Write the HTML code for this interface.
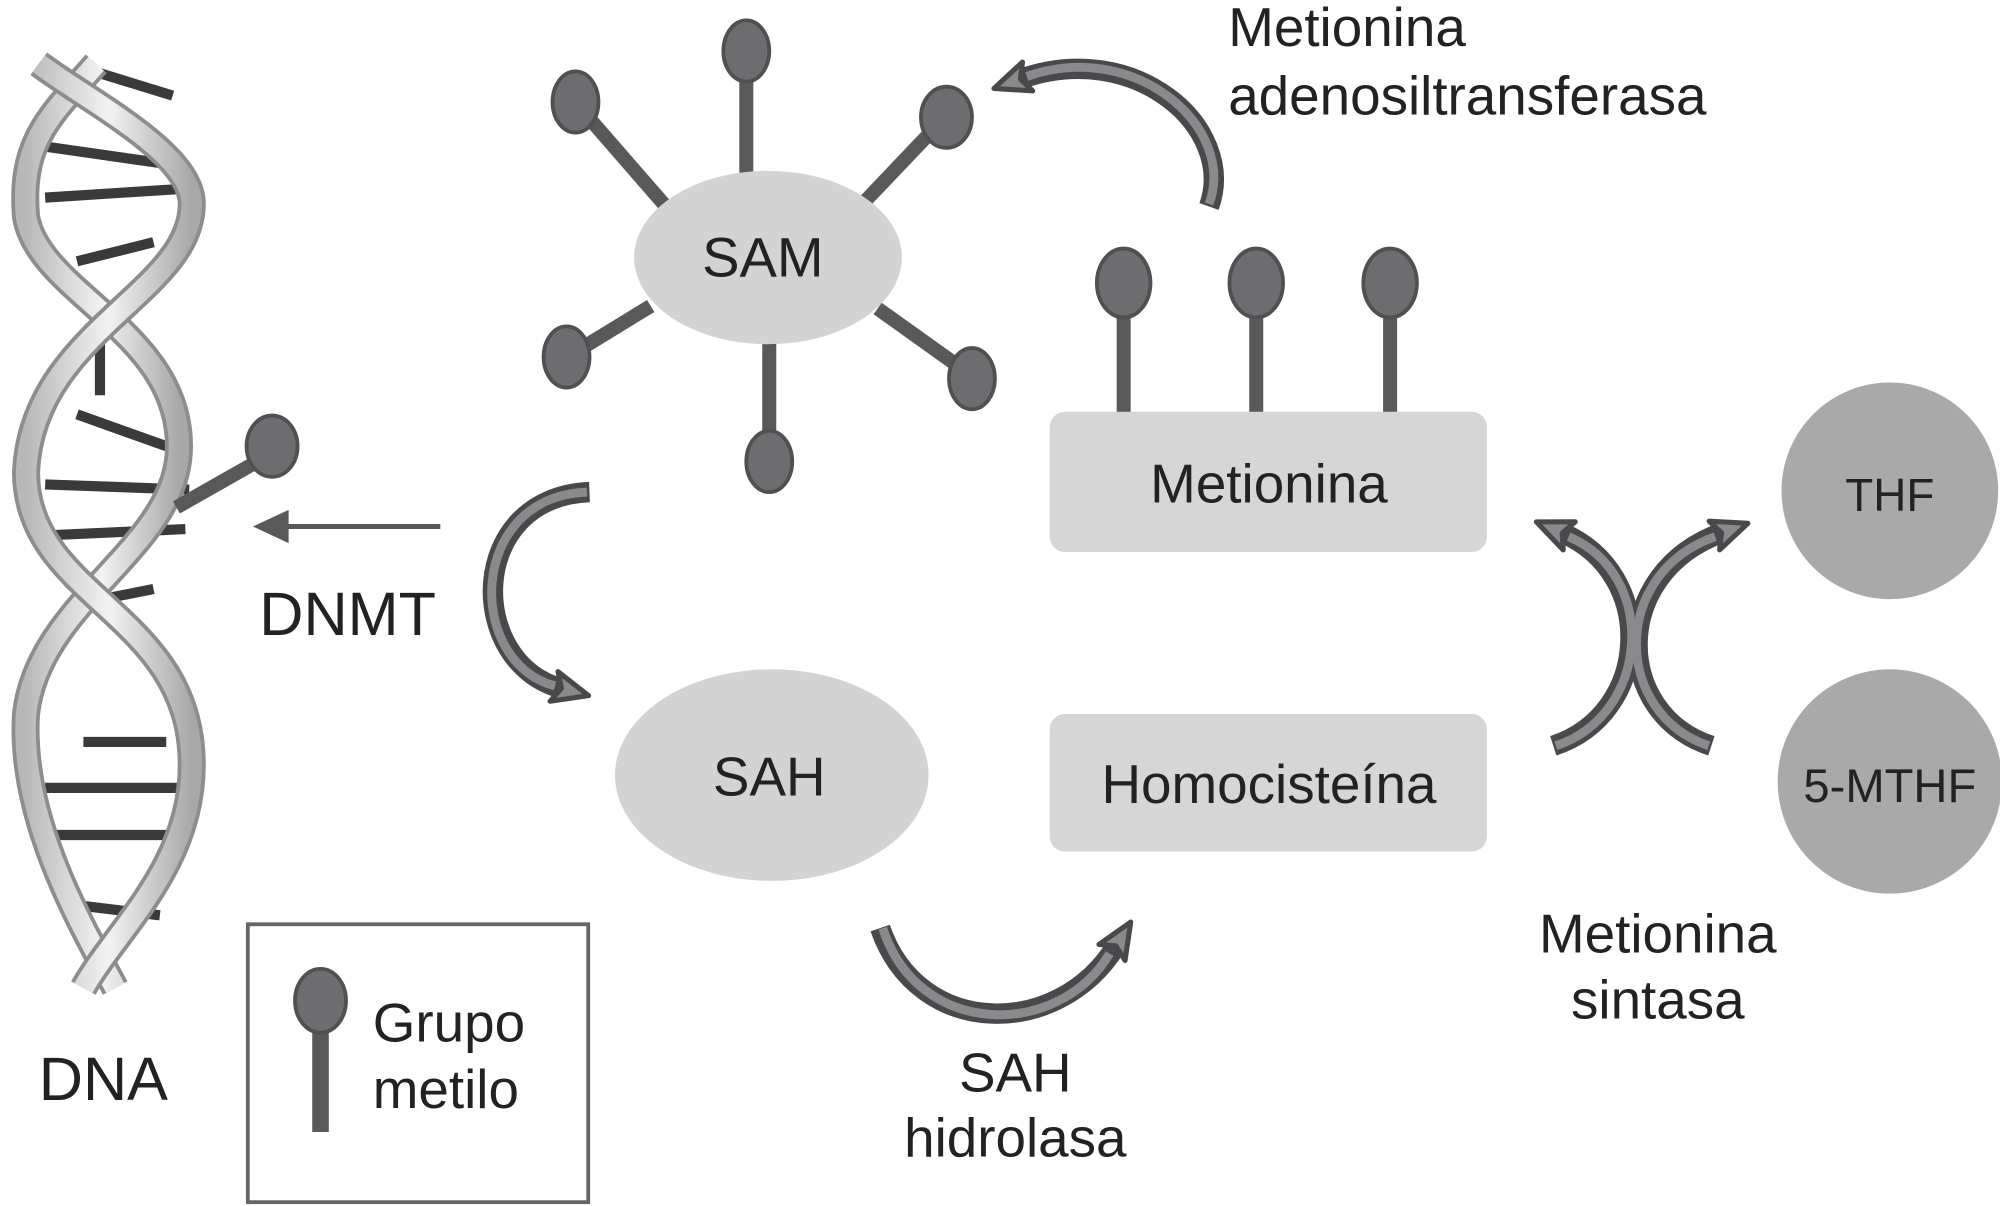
<!DOCTYPE html>
<html><head><meta charset="utf-8"><style>
html,body{margin:0;padding:0;background:#fff;}
svg{display:block;}
text{font-family:"Liberation Sans",sans-serif;fill:#222;}
</style></head><body>
<svg width="2000" height="1206" viewBox="0 0 1568 946" xmlns="http://www.w3.org/2000/svg">
<defs>
<marker id="ah" markerUnits="userSpaceOnUse" markerWidth="40" markerHeight="40" refX="8" refY="20" orient="auto">
<path d="M2,8 L30,20 L2,32 L8,20 Z" fill="#8a8a8c" stroke="#49494b" stroke-width="4" stroke-linejoin="round"/>
</marker>
<linearGradient id="st" x1="0" x2="1"><stop offset="0" stop-color="#b8b8b8"/><stop offset="0.5" stop-color="#f2f2f2"/><stop offset="1" stop-color="#a8a8a8"/></linearGradient>
</defs>

<!-- DNA rungs -->
<g stroke="#3a3a3a" stroke-width="8">
<line x1="70" y1="55" x2="135" y2="75"/>
<line x1="35" y1="115" x2="140" y2="130"/>
<line x1="35" y1="155" x2="145" y2="148"/>
<line x1="60" y1="205" x2="120" y2="190"/>
<line x1="78" y1="270" x2="78" y2="310"/>
<line x1="60" y1="325" x2="130" y2="350"/>
<line x1="35" y1="380" x2="148" y2="384"/>
<line x1="35" y1="420" x2="145" y2="415"/>
<line x1="55" y1="475" x2="120" y2="462"/>
<line x1="65" y1="582" x2="130" y2="582"/>
<line x1="35" y1="618" x2="145" y2="618"/>
<line x1="35" y1="655" x2="145" y2="655"/>
<line x1="60" y1="710" x2="125" y2="718"/>
</g>
<!-- DNA strands -->
<g fill="none" stroke-linecap="butt">
<path d="M75,50 C40,90 15,110 20,170 C30,230 140,260 140,350 C140,430 30,470 20,560 C15,640 60,720 90,775" stroke="#8d8d8d" stroke-width="22"/>
<path d="M75,50 C40,90 15,110 20,170 C30,230 140,260 140,350 C140,430 30,470 20,560 C15,640 60,720 90,775" stroke="url(#st)" stroke-width="16"/>
<path d="M30,50 C70,80 150,120 150,160 C150,230 25,260 20,370 C20,470 150,480 150,600 C150,680 90,730 65,775" stroke="#8d8d8d" stroke-width="22"/>
<path d="M30,50 C70,80 150,120 150,160 C150,230 25,260 20,370 C20,470 150,480 150,600 C150,680 90,730 65,775" stroke="url(#st)" stroke-width="16"/>
</g>
<!-- methyl on DNA -->
<line x1="138" y1="398" x2="205" y2="360" stroke="#59595b" stroke-width="11"/>
<ellipse cx="213" cy="350" rx="20" ry="24" fill="#6d6d6f" stroke="#505052" stroke-width="3"/>

<!-- DNMT arrow -->
<line x1="345" y1="413" x2="222" y2="413" stroke="#59595b" stroke-width="4"/>
<polygon points="198,413 226,400 226,426" fill="#59595b"/>
<text x="203" y="498" font-size="48">DNMT</text>
<text x="30" y="863" font-size="48">DNA</text>

<!-- SAM -->
<g stroke="#59595b" stroke-width="11">
<line x1="585" y1="45" x2="585" y2="145"/>
<line x1="455" y1="85" x2="522" y2="162"/>
<line x1="738" y1="95" x2="678" y2="158"/>
<line x1="448" y1="278" x2="510" y2="240"/>
<line x1="758" y1="292" x2="688" y2="242"/>
<line x1="603" y1="358" x2="603" y2="265"/>
</g>
<ellipse cx="602" cy="202" rx="105" ry="68" fill="#d3d3d3"/>
<text x="598" y="217" font-size="44" text-anchor="middle">SAM</text>
<g fill="#6d6d6f" stroke="#505052" stroke-width="3">
<ellipse cx="585" cy="40" rx="18" ry="24"/>
<ellipse cx="451" cy="80" rx="18" ry="24"/>
<ellipse cx="742" cy="92" rx="20" ry="24"/>
<ellipse cx="444" cy="280" rx="18" ry="24"/>
<ellipse cx="762" cy="297" rx="18" ry="24"/>
<ellipse cx="603" cy="362" rx="18" ry="24"/>
</g>

<!-- Metionina -->
<g stroke="#59595b" stroke-width="11">
<line x1="881" y1="230" x2="881" y2="325"/>
<line x1="985" y1="230" x2="985" y2="325"/>
<line x1="1090" y1="230" x2="1090" y2="325"/>
</g>
<g fill="#6d6d6f" stroke="#505052" stroke-width="3">
<ellipse cx="881" cy="222" rx="21" ry="27"/>
<ellipse cx="985" cy="222" rx="21" ry="27"/>
<ellipse cx="1090" cy="222" rx="21" ry="27"/>
</g>
<rect x="823" y="323" width="343" height="110" rx="12" fill="#d6d6d6"/>
<text x="995" y="394" font-size="43" text-anchor="middle">Metionina</text>

<!-- SAH -->
<ellipse cx="605" cy="608" rx="123" ry="83" fill="#d3d3d3"/>
<text x="603" y="624" font-size="43" text-anchor="middle">SAH</text>

<!-- Homocisteina -->
<rect x="823" y="560" width="343" height="108" rx="12" fill="#d6d6d6"/>
<text x="995" y="630" font-size="43" text-anchor="middle">Homocisteína</text>

<!-- THF / 5-MTHF -->
<circle cx="1482" cy="385" r="85" fill="#a9a9a9"/>
<text x="1482" y="401" font-size="36" text-anchor="middle">THF</text>
<circle cx="1482" cy="613" r="88" fill="#a9a9a9"/>
<text x="1482" y="629" font-size="37" text-anchor="middle">5-MTHF</text>

<!-- curved arrows -->
<g fill="none" stroke-linecap="butt">
<g stroke="#49494b" stroke-width="16">
<path d="M948,162 C970,100 890,30 800,62" marker-end="url(#ah)"/>
<path d="M462,386 C365,390 365,520 440,540" marker-end="url(#ah)"/>
<path d="M690,728 C720,815 830,815 875,742" marker-end="url(#ah)"/>
<path d="M1218,585 C1295,560 1300,450 1225,418" marker-end="url(#ah)"/>
<path d="M1342,585 C1265,560 1262,450 1350,418" marker-end="url(#ah)"/>
</g>
<g stroke="#8a8a8c" stroke-width="7">
<path d="M948,160 C970,100 890,30 805,60"/>
<path d="M460,386 C365,390 365,520 435,538"/>
<path d="M692,728 C720,815 830,815 870,748"/>
<path d="M1220,585 C1295,560 1300,450 1230,421"/>
<path d="M1340,585 C1265,560 1262,450 1345,421"/>
</g>
</g>

<text x="963" y="36" font-size="43">Metionina</text>
<text x="963" y="90" font-size="43">adenosiltransferasa</text>
<text x="796" y="856" font-size="43" text-anchor="middle">SAH</text>
<text x="796" y="907" font-size="43" text-anchor="middle">hidrolasa</text>
<text x="1300" y="747" font-size="43" text-anchor="middle">Metionina</text>
<text x="1300" y="799" font-size="43" text-anchor="middle">sintasa</text>

<!-- legend -->
<rect x="194" y="725" width="267" height="218" fill="none" stroke="#666" stroke-width="3"/>
<line x1="251" y1="790" x2="251" y2="888" stroke="#59595b" stroke-width="13"/>
<ellipse cx="251" cy="785" rx="20" ry="25" fill="#6d6d6f" stroke="#505052" stroke-width="3"/>
<text x="292" y="817" font-size="43">Grupo</text>
<text x="292" y="869" font-size="43">metilo</text>
</svg>
</body></html>
